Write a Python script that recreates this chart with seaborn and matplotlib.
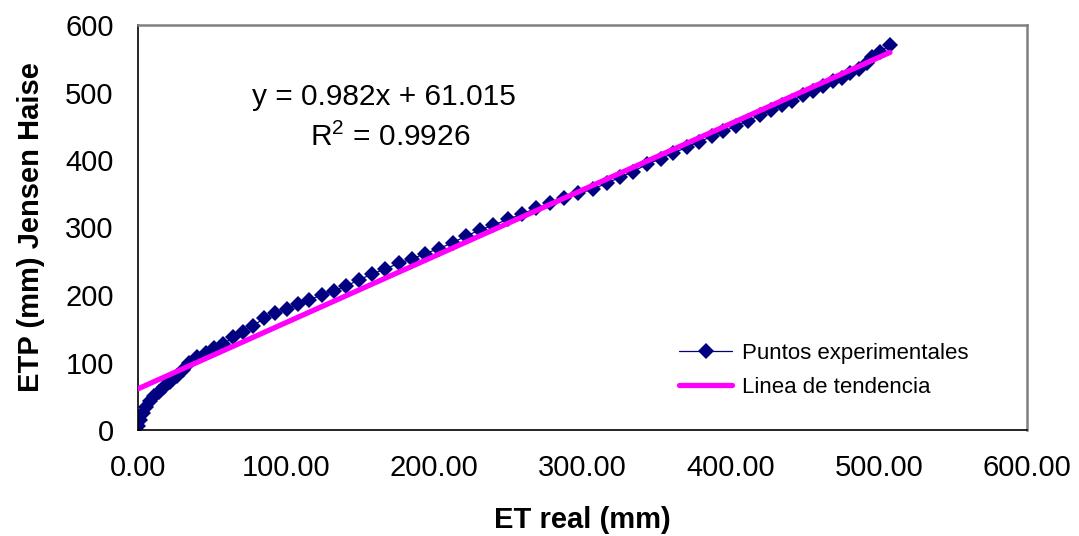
import numpy as np
import pandas as pd
import matplotlib
matplotlib.use("Agg")
import matplotlib.pyplot as plt
import seaborn as sns

# ---- data ----
et_real = [0.3, 1.3, 3.2, 5.4, 8.1, 11.0, 14.4, 17.5, 21.6, 26.1,
           30.6, 34.6, 40.0, 45.9, 51.5, 57.6, 64.3, 71.1, 77.8, 85.0,
           92.5, 100.4, 107.8, 115.6, 124.0, 132.3, 140.4, 149.0, 157.9, 166.9,
           175.9, 184.9, 193.5, 202.9, 212.4, 221.4, 230.8, 239.8, 249.9, 259.0,
           268.6, 278.1, 287.5, 297.2, 306.9, 316.3, 325.3, 334.3, 343.7, 352.8,
           361.3, 370.3, 378.8, 387.2, 395.0, 403.6, 411.9, 419.8, 427.0, 434.8,
           441.6, 448.6, 455.4, 462.5, 468.9, 474.9, 480.5, 486.6, 491.8, 495.2,
           500.8, 507.5]
etp_jensen = [6.0, 14.8, 25.6, 34.5, 43.0, 50.8, 56.7, 64.1, 71.6, 80.0,
              88.9, 98.8, 107.7, 114.5, 121.0, 127.4, 137.3, 145.6, 154.5, 165.5,
              172.9, 179.7, 186.7, 193.0, 200.0, 206.4, 213.3, 222.2, 231.1, 238.5,
              247.0, 253.3, 261.2, 268.6, 277.5, 287.4, 296.3, 303.7, 312.1, 320.0,
              328.4, 335.9, 343.3, 350.7, 356.6, 365.5, 374.4, 382.7, 394.1, 401.9,
              410.4, 418.8, 426.7, 435.1, 442.5, 449.9, 458.2, 466.2, 473.6, 481.0,
              487.9, 495.9, 502.7, 510.1, 516.6, 521.5, 528.9, 535.3, 543.7, 552.2,
              560.4, 570.4]
slope = 0.982
intercept = 61.015
r2 = 0.9926
x_ticks = [0, 100, 200, 300, 400, 500, 600]
y_ticks = [0, 100, 200, 300, 400, 500, 600]
label_points = "Puntos experimentales"
label_trend = "Linea de tendencia"
x_title = "ET real (mm)"
y_title = "ETP (mm) Jensen Haise"

# ---- style ----
sns.set_style("white")
plt.rcParams['font.family'] = ['Liberation Sans', 'DejaVu Sans']
plt.rcParams['mathtext.fontset'] = 'custom'
plt.rcParams['mathtext.rm'] = 'Liberation Sans'
plt.rcParams['text.color'] = 'black'
plt.rcParams['axes.labelcolor'] = 'black'

fig = plt.figure(figsize=(10.79, 5.36), dpi=100)
ax = fig.add_axes([138 / 1079, 1 - 430 / 536, 889 / 1079, 405 / 536])

df_pts = pd.DataFrame({"x": et_real, "y": etp_jensen})
trend_x = np.array([0.0, max(et_real)])
df_trend = pd.DataFrame({"x": trend_x, "y": slope * trend_x + intercept})

sns.lineplot(data=df_pts, x="x", y="y", ax=ax, color="#000080", linewidth=0.9,
             marker="D", markersize=8, markeredgewidth=0, label=label_points,
             sort=False, zorder=2)
sns.lineplot(data=df_trend, x="x", y="y", ax=ax, color="#FF00FF", linewidth=3.8,
             label=label_trend, zorder=3, solid_capstyle="round")

ax.set_xlim(0, 600)
ax.set_ylim(0, 600)
ax.set_xticks(x_ticks)
ax.set_xticklabels([f"{v:.2f}" for v in x_ticks])
ax.set_yticks(y_ticks)
ax.set_yticklabels([str(v) for v in y_ticks])
ax.tick_params(axis="both", direction="inout", length=13, width=1.0,
               color="black", labelsize=21, labelcolor="black")
ax.tick_params(axis="x", pad=11)
ax.tick_params(axis="y", pad=11)

for s in ["left", "bottom"]:
    ax.spines[s].set_color("black")
    ax.spines[s].set_linewidth(1.2)
for s in ["top", "right"]:
    ax.spines[s].set_color("#808080")
    ax.spines[s].set_linewidth(1.8)

ax.set_xlabel(x_title, fontsize=21, fontweight="bold", va="center")
ax.set_ylabel(y_title, fontsize=21, fontweight="bold", va="center")
ax.xaxis.set_label_coords(0.5, -(520 - 430) / 405)
ax.yaxis.set_label_coords(-(138 - 31) / 889, 0.5)

ax.text(166, 493, f"y = {slope}x + {intercept:.3f}", fontsize=21.5,
        ha="center", va="center")
ax.text(170, 434, f"R$^2$ = {r2}", fontsize=21.5, ha="center", va="center")

leg = ax.legend(loc="upper left", bbox_to_anchor=((670 - 138) / 889, (430 - 334) / 405),
                frameon=False, fontsize=16, handlelength=2.4, handletextpad=0.45,
                labelspacing=0.6, borderaxespad=0)

fig.savefig("out.png", dpi=100, facecolor="white")
